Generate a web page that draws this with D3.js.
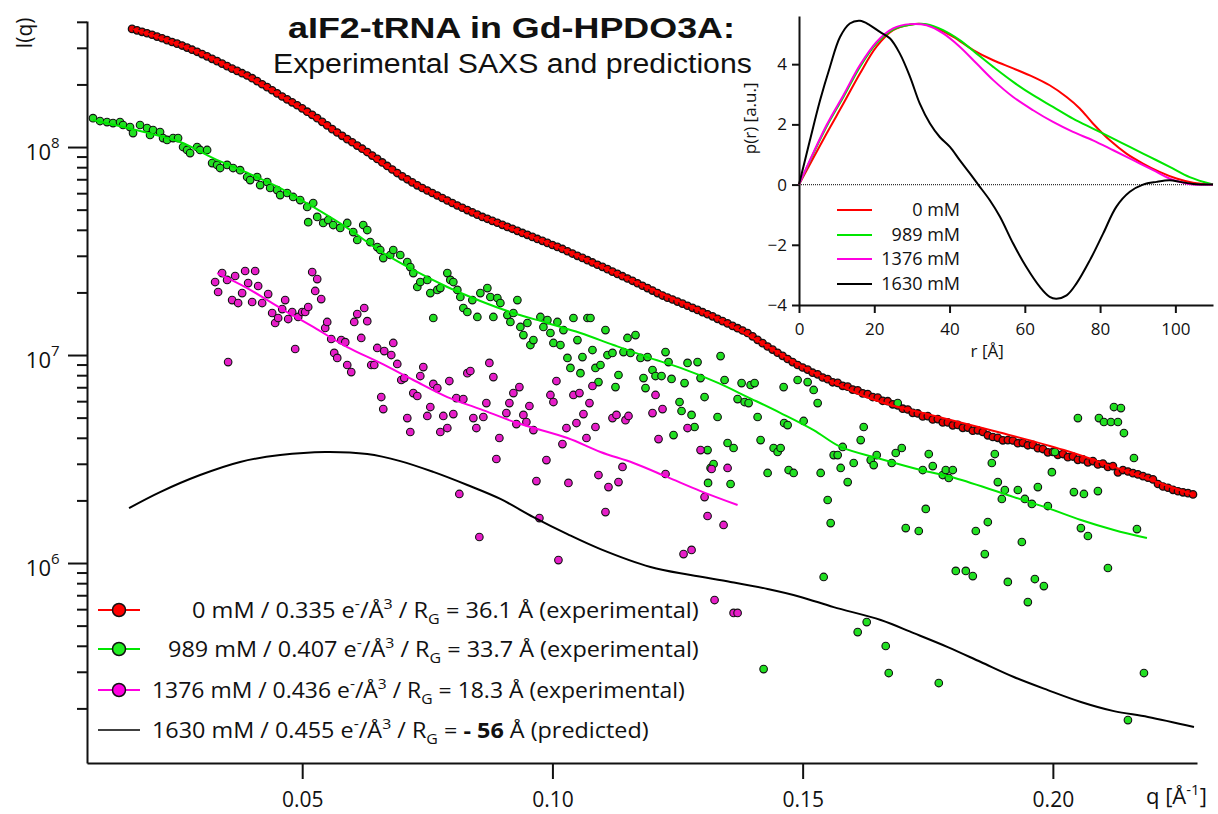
<!DOCTYPE html>
<html>
<head>
<meta charset="utf-8">
<script src="https://cdn.jsdelivr.net/npm/d3@7"></script>
<style>
body { margin: 0; background: #fff; }
text { font-family: "Open Sans", sans-serif; fill: #111; }
</style>
</head>
<body>
<div id="container"></div>
<script>
const W = 1218, H = 814;

// SAXS data, every entry is [q (1/Å), log10 I(q)]
const pts0mM = [
[0.016,8.568],[0.017,8.561],[0.018,8.554],[0.019,8.547],[0.020,8.540],[0.021,8.531],[0.022,8.523],[0.023,8.514],[0.024,8.505],[0.025,8.497],
[0.026,8.488],[0.027,8.478],[0.028,8.468],[0.029,8.458],[0.030,8.447],[0.031,8.436],[0.032,8.424],[0.033,8.413],[0.034,8.401],[0.035,8.389],
[0.036,8.377],[0.037,8.366],[0.038,8.355],[0.039,8.344],[0.040,8.331],[0.041,8.317],[0.042,8.302],[0.043,8.288],[0.044,8.273],[0.045,8.258],
[0.046,8.243],[0.047,8.229],[0.048,8.215],[0.049,8.201],[0.050,8.186],[0.051,8.170],[0.052,8.155],[0.053,8.139],[0.054,8.121],[0.055,8.104],
[0.056,8.086],[0.057,8.070],[0.058,8.054],[0.059,8.038],[0.060,8.023],[0.061,8.007],[0.062,7.992],[0.063,7.976],[0.064,7.959],[0.065,7.943],
[0.066,7.926],[0.067,7.909],[0.068,7.892],[0.069,7.875],[0.070,7.859],[0.071,7.845],[0.072,7.830],[0.073,7.816],[0.074,7.803],[0.075,7.791],
[0.076,7.779],[0.077,7.767],[0.078,7.755],[0.079,7.743],[0.080,7.731],[0.081,7.719],[0.082,7.708],[0.083,7.697],[0.084,7.686],[0.085,7.675],
[0.086,7.664],[0.087,7.655],[0.088,7.645],[0.089,7.636],[0.090,7.626],[0.091,7.616],[0.092,7.607],[0.093,7.597],[0.094,7.587],[0.095,7.578],
[0.096,7.568],[0.097,7.558],[0.098,7.549],[0.099,7.539],[0.100,7.529],[0.101,7.520],[0.102,7.510],[0.103,7.499],[0.104,7.488],[0.105,7.477],
[0.106,7.467],[0.107,7.456],[0.108,7.445],[0.109,7.434],[0.110,7.424],[0.111,7.413],[0.112,7.401],[0.113,7.390],[0.114,7.379],[0.115,7.368],
[0.116,7.357],[0.117,7.345],[0.118,7.333],[0.119,7.322],[0.120,7.310],[0.121,7.298],[0.122,7.286],[0.123,7.276],[0.124,7.267],[0.125,7.257],
[0.126,7.247],[0.127,7.237],[0.128,7.227],[0.129,7.217],[0.130,7.206],[0.131,7.196],[0.132,7.186],[0.133,7.174],[0.134,7.163],[0.135,7.152],
[0.136,7.140],[0.137,7.129],[0.138,7.118],[0.139,7.106],[0.140,7.090],[0.141,7.073],[0.142,7.057],[0.143,7.041],[0.144,7.026],[0.145,7.011],
[0.146,6.996],[0.147,6.981],[0.148,6.966],[0.149,6.952],[0.150,6.940],[0.151,6.930],[0.152,6.915],[0.153,6.907],[0.154,6.892],[0.155,6.884],
[0.156,6.869],[0.157,6.866],[0.158,6.852],[0.159,6.848],[0.160,6.834],[0.161,6.830],[0.162,6.816],[0.163,6.812],[0.164,6.798],[0.165,6.795],
[0.166,6.780],[0.167,6.778],[0.168,6.763],[0.169,6.758],[0.170,6.742],[0.171,6.738],[0.172,6.722],[0.173,6.719],[0.174,6.705],[0.175,6.706],
[0.176,6.690],[0.177,6.692],[0.178,6.676],[0.179,6.676],[0.180,6.662],[0.181,6.664],[0.182,6.650],[0.183,6.651],[0.184,6.636],[0.185,6.638],
[0.186,6.630],[0.187,6.614],[0.188,6.606],[0.189,6.602],[0.190,6.590],[0.191,6.591],[0.192,6.589],[0.193,6.576],[0.194,6.578],[0.195,6.566],
[0.196,6.568],[0.197,6.552],[0.198,6.548],[0.199,6.532],[0.200,6.534],[0.201,6.520],[0.202,6.524],[0.203,6.509],[0.204,6.512],[0.205,6.496],
[0.206,6.498],[0.207,6.484],[0.208,6.490],[0.209,6.474],[0.210,6.478],[0.211,6.462],[0.212,6.466],[0.213,6.436],[0.214,6.447],[0.215,6.440],
[0.216,6.432],[0.217,6.426],[0.218,6.418],[0.219,6.410],[0.220,6.402],[0.221,6.380],[0.222,6.368],[0.223,6.362],[0.224,6.352],[0.225,6.345],
[0.226,6.340],[0.227,6.336],[0.228,6.330]
];

const pts989mM = [
[0.0082,8.139],[0.0096,8.125],[0.0110,8.120],[0.0122,8.115],[0.0136,8.120],[0.0142,8.106],[0.0156,8.096],[0.0162,8.067],[0.0176,8.106],[0.0190,8.091],
[0.0196,8.058],[0.0202,8.082],[0.0216,8.072],[0.0222,8.043],[0.0230,8.034],[0.0242,8.043],[0.0252,8.043],[0.0262,8.000],[0.0270,7.986],[0.0276,7.971],
[0.0290,8.000],[0.0296,7.986],[0.0310,7.986],[0.0320,7.923],[0.0330,7.914],[0.0336,7.899],[0.0350,7.914],[0.0362,7.899],[0.0376,7.889],[0.0390,7.856],
[0.0396,7.841],[0.0410,7.856],[0.0416,7.817],[0.0430,7.832],[0.0436,7.803],[0.0450,7.793],[0.0456,7.769],[0.0470,7.779],[0.0482,7.760],[0.0496,7.745],
[0.0510,7.712],[0.0512,7.639],[0.0522,7.731],[0.0530,7.664],[0.0542,7.635],[0.0552,7.649],[0.0562,7.625],[0.0576,7.611],[0.0590,7.635],[0.0602,7.591],
[0.0610,7.553],[0.0622,7.625],[0.0630,7.601],[0.0636,7.543],[0.0650,7.519],[0.0656,7.505],[0.0662,7.466],[0.0676,7.481],[0.0682,7.505],[0.0696,7.481],
[0.0710,7.447],[0.0716,7.423],[0.0722,7.394],[0.0730,7.327],[0.0736,7.351],[0.0750,7.361],[0.0756,7.298],[0.0762,7.178],[0.0770,7.313],[0.0776,7.322],
[0.0790,7.394],[0.0796,7.361],[0.0802,7.351],[0.0810,7.313],[0.0816,7.279],[0.0822,7.226],[0.0830,7.207],[0.0840,7.264],[0.0850,7.183],[0.0856,7.298],
[0.0870,7.322],[0.0876,7.279],[0.0882,7.183],[0.0890,7.274],[0.0896,7.250],[0.0910,7.192],[0.0916,7.159],[0.0922,7.202],[0.0930,7.264],[0.0936,7.135],
[0.0942,7.096],[0.0950,7.154],[0.0956,7.048],[0.0962,7.072],[0.0976,7.183],[0.0982,7.135],[0.0990,7.168],[0.0996,7.106],[0.1002,7.058],[0.1010,7.159],
[0.1016,7.048],[0.1022,7.120],[0.1030,6.986],[0.1036,6.938],[0.1042,7.178],[0.1050,7.072],[0.1056,6.913],[0.1060,6.990],[0.1070,7.178],[0.1076,7.178],
[0.1080,7.024],[0.1086,6.938],[0.1092,6.870],[0.1096,6.952],[0.1106,7.120],[0.1110,7.000],[0.1120,7.010],[0.1126,6.846],[0.1132,6.904],[0.1142,7.014],
[0.1150,7.082],[0.1156,7.010],[0.1166,7.096],[0.1176,6.986],[0.1182,6.889],[0.1186,6.841],[0.1190,6.990],[0.1200,6.928],[0.1206,6.899],[0.1218,6.899],
[0.1226,7.014],[0.1232,6.966],[0.1238,6.885],[0.1242,6.615],[0.1254,6.774],[0.1258,6.731],[0.1264,6.865],[0.1270,6.962],[0.1278,6.712],[0.1284,6.654],
[0.1290,6.966],[0.1296,6.889],[0.1304,6.798],[0.1310,6.543],[0.1311,6.385],[0.1316,6.457],[0.1322,6.476],[0.1330,6.702],[0.1336,6.995],[0.1344,6.880],
[0.1350,6.577],[0.1356,6.380],[0.1362,6.553],[0.1370,6.788],[0.1378,6.865],[0.1384,6.774],[0.1392,6.769],[0.1396,6.856],[0.1404,6.865],[0.1410,6.702],
[0.1416,6.591],[0.1422,5.490],[0.1430,6.433],[0.1442,6.553],[0.1450,6.534],[0.1456,6.553],[0.1462,6.846],[0.1463,6.673],[0.1470,6.663],[0.1472,6.447],
[0.1482,6.433],[0.1490,6.880],[0.1502,6.683],[0.1510,6.870],[0.1522,6.832],[0.1530,6.769],[0.1536,6.433],[0.1542,5.933],[0.1550,6.303],[0.1556,6.192],
[0.1562,6.519],[0.1570,6.519],[0.1576,6.457],[0.1580,6.558],[0.1590,6.389],[0.1602,6.481],[0.1610,5.668],[0.1616,6.591],[0.1622,6.654],[0.1628,5.716],
[0.1636,6.495],[0.1642,6.471],[0.1648,6.519],[0.1666,5.601],[0.1672,5.471],[0.1678,6.481],[0.1686,6.529],[0.1690,6.769],[0.1698,6.553],[0.1706,6.168],
[0.1732,6.154],[0.1740,6.447],[0.1746,6.260],[0.1752,6.524],[0.1760,6.466],[0.1772,5.423],[0.1780,6.423],[0.1786,6.447],[0.1792,6.409],[0.1800,6.447],
[0.1806,5.962],[0.1826,5.962],[0.1840,5.937],[0.1846,6.154],[0.1864,6.043],[0.1870,6.197],[0.1878,6.481],[0.1884,6.524],[0.1890,6.389],[0.1898,6.308],
[0.1904,6.351],[0.1910,5.909],[0.1930,6.351],[0.1938,6.101],[0.1944,6.308],[0.1950,5.812],[0.1958,6.284],[0.1964,5.923],[0.1970,6.365],[0.1982,5.889],
[0.1990,6.274],[0.1998,6.437],[0.2004,6.534],[0.2042,6.341],[0.2050,6.697],[0.2056,6.168],[0.2062,6.332],[0.2070,6.130],[0.2090,6.346],[0.2092,6.697],
[0.2102,6.678],[0.2110,5.976],[0.2116,6.678],[0.2122,6.750],[0.2130,6.678],[0.2136,6.745],[0.2142,6.625],[0.2150,5.245],[0.2162,6.505],[0.2168,6.163],
[0.2182,5.471]
];

const pts1376mM = [
[0.0326,7.351],[0.0332,7.303],[0.0340,7.394],[0.0350,7.361],[0.0352,6.966],[0.0360,7.264],[0.0366,7.380],[0.0372,7.250],[0.0380,7.298],[0.0386,7.404],
[0.0392,7.346],[0.0400,7.255],[0.0406,7.404],[0.0412,7.332],[0.0420,7.250],[0.0432,7.293],[0.0440,7.202],[0.0446,7.154],[0.0452,7.178],[0.0460,7.221],
[0.0466,7.264],[0.0472,7.173],[0.0480,7.207],[0.0486,7.029],[0.0492,7.183],[0.0500,7.207],[0.0506,7.207],[0.0512,7.231],[0.0520,7.399],[0.0526,7.308],
[0.0530,7.365],[0.0538,7.269],[0.0546,7.130],[0.0550,7.159],[0.0558,7.077],[0.0564,7.010],[0.0570,6.986],[0.0578,7.072],[0.0586,7.062],[0.0590,6.952],
[0.0598,6.918],[0.0604,7.159],[0.0610,7.197],[0.0618,7.082],[0.0624,7.226],[0.0630,7.163],[0.0638,6.952],[0.0644,6.952],[0.0650,7.034],[0.0658,6.798],
[0.0662,6.740],[0.0664,7.019],[0.0678,7.000],[0.0682,7.058],[0.0690,6.957],[0.0698,6.880],[0.0704,6.889],[0.0710,6.697],[0.0716,6.630],[0.0722,6.817],
[0.0730,6.803],[0.0736,6.899],[0.0742,6.942],[0.0750,6.707],[0.0756,6.750],[0.0762,6.861],[0.0770,6.841],[0.0776,6.630],[0.0782,6.707],[0.0790,6.649],
[0.0794,6.875],[0.0802,6.716],[0.0808,6.793],[0.0814,6.332],[0.0822,6.788],[0.0830,6.913],[0.0836,6.923],[0.0842,6.697],[0.0848,6.649],[0.0854,6.125],
[0.0862,6.702],[0.0868,6.769],[0.0874,6.962],[0.0882,6.894],[0.0888,6.500],[0.0894,6.601],[0.0908,6.721],[0.0914,6.769],[0.0922,6.817],[0.0928,6.668],
[0.0934,6.846],[0.0942,6.712],[0.0948,6.678],[0.0954,6.755],[0.0962,6.639],[0.0968,6.394],[0.0974,6.216],[0.0988,6.495],[0.0996,6.808],[0.1002,6.774],
[0.1008,6.875],[0.1012,6.014],[0.1020,6.572],[0.1028,6.649],[0.1032,6.385],[0.1042,6.808],[0.1048,6.673],[0.1054,6.817],[0.1062,6.716],[0.1068,6.601],
[0.1074,6.769],[0.1080,6.851],[0.1086,6.654],[0.1092,6.423],[0.1106,6.245],[0.1112,6.365],[0.1120,6.697],[0.1128,6.712],[0.1132,6.389],[0.1140,6.462],
[0.1146,6.687],[0.1152,6.707],[0.1200,6.721],[0.1206,6.808],[0.1212,6.596],[0.1220,6.740],[0.1226,6.428],[0.1262,6.043],[0.1270,6.649],[0.1278,6.063],
[0.1296,6.543],[0.1304,6.317],[0.1310,6.226],[0.1318,6.452],[0.1324,5.822],[0.1342,6.183],[0.1350,6.457],[0.1362,5.760],[0.1370,5.760]
];

const fit0mM = [[0.0162,8.567],[0.0296,8.452],[0.0430,8.284],[0.0562,8.082],[0.0696,7.865],[0.0856,7.668],[0.1016,7.514],[0.1156,7.361],[0.1322,7.183],[0.1422,7.053],
[0.1490,6.957],[0.1556,6.875],[0.1622,6.803],[0.1676,6.760],[0.1756,6.712],[0.1890,6.630],[0.2022,6.543],[0.2122,6.462],[0.2196,6.399],[0.2282,6.327]];

const fit989mM = [[0.0082,8.130],[0.0176,8.077],[0.0256,8.024],[0.0322,7.947],[0.0396,7.870],[0.0456,7.803],[0.0522,7.712],[0.0590,7.611],[0.0656,7.500],[0.0722,7.409],
[0.0790,7.327],[0.0856,7.260],[0.0922,7.202],[0.0990,7.154],[0.1056,7.106],[0.1122,7.048],[0.1190,6.990],[0.1256,6.938],[0.1332,6.865],[0.1390,6.798],
[0.1456,6.721],[0.1522,6.639],[0.1576,6.558],[0.1656,6.500],[0.1736,6.447],[0.1804,6.409],[0.1922,6.317],[0.1990,6.264],[0.2056,6.207],[0.2122,6.159],[0.2188,6.120]];

const fit1376mM = [[0.0330,7.394],[0.0390,7.322],[0.0456,7.226],[0.0522,7.135],[0.0590,7.038],[0.0656,6.962],[0.0722,6.880],[0.0790,6.798],[0.0856,6.740],[0.0930,6.673],
[0.1030,6.601],[0.1096,6.534],[0.1162,6.481],[0.1230,6.413],[0.1296,6.346],[0.1370,6.279]];

const pred1630mM = [[0.0154,6.264],[0.0216,6.341],[0.0296,6.423],[0.0376,6.486],[0.0456,6.519],[0.0546,6.534],[0.0630,6.524],[0.0696,6.490],[0.0762,6.438],[0.0830,6.375],
[0.0896,6.308],[0.0962,6.221],[0.1030,6.139],[0.1096,6.067],[0.1196,5.981],[0.1276,5.942],[0.1356,5.909],[0.1430,5.875],[0.1496,5.837],[0.1562,5.788],
[0.1656,5.726],[0.1722,5.663],[0.1790,5.596],[0.1856,5.524],[0.1922,5.452],[0.1990,5.389],[0.2056,5.332],[0.2122,5.288],[0.2190,5.260],[0.2282,5.212]];

// pair distance distributions, [r (Å), p(r)]
const pr0mM = [[0,0],[7.3,1.69],[11.8,2.69],[16.2,3.69],[20.6,4.58],[25,5.13],[29.5,5.31],[33,5.33],[36.5,5.19],[41,4.91],[46.3,4.47],[51.6,4.13],
[56.9,3.86],[62.2,3.58],[66.6,3.30],[71.1,2.91],[74.6,2.53],[78.1,2.03],[82.6,1.47],[87,1.03],[91.4,0.70],[95.8,0.42],[100.3,0.20],[104.7,0.06],[110,0]];
const pr989mM = [[0,0],[7.3,1.92],[11.8,2.91],[16.2,3.91],[20.6,4.69],[25,5.15],[29.5,5.31],[33.9,5.33],[38.3,5.13],[42.7,4.80],[47.2,4.35],[51.6,3.91],
[56.9,3.41],[62.2,2.97],[67.5,2.58],[72.8,2.19],[78.1,1.86],[83.5,1.53],[87.9,1.25],[93.2,0.92],[98.5,0.59],[103.8,0.25],[110,0]];
const pr1376mM = [[0,0],[7.3,1.97],[11.8,2.97],[16.2,3.97],[20.6,4.74],[25,5.19],[29.5,5.33],[33.9,5.29],[38.3,5.02],[42.7,4.58],[47.2,4.02],[51.6,3.47],
[56.9,2.91],[62.2,2.47],[67.5,2.08],[72.8,1.75],[78.1,1.47],[83.5,1.14],[88.8,0.81],[94.1,0.48],[98.5,0.20],[102.1,0.06],[104.7,0],[110,0]];
const pr1630mM = [[0,0],[2.9,1.47],[5.6,2.8],[8.2,3.9],[10.9,4.9],[13.5,5.35],[16.2,5.44],[18.8,5.3],[21.5,5.07],[24.2,4.85],[26.8,4.35],[29.5,3.58],
[32.1,2.69],[34.8,2.03],[37.4,1.58],[40.1,1.25],[42.7,0.81],[45.4,0.37],[47.6,0],[50.7,-0.52],[53.4,-1.07],[56.9,-1.96],[60.4,-2.74],[64.0,-3.40],
[66.6,-3.73],[68.4,-3.79],[71.1,-3.68],[73.7,-3.29],[77.3,-2.51],[80.8,-1.63],[84.3,-0.74],[87.9,-0.24],[91.4,0],[95,0.09],[98.5,0.14],[101.2,0.09],
[104.7,0.02],[110,0]];

const xTicks = [0.05, 0.10, 0.15, 0.20];
const yMajorTicks = [1e6, 1e7, 1e8];
const yMinorTicks = [2e5,3e5,4e5,5e5,6e5,7e5,8e5,9e5,2e6,3e6,4e6,5e6,6e6,7e6,8e6,9e6,
                     2e7,3e7,4e7,5e7,6e7,7e7,8e7,9e7,2e8,3e8,4e8];
const insetXTicks = [0, 20, 40, 60, 80, 100];
const insetYTicks = [-4, -2, 0, 2, 4];

const legendConc = ["0 mM", "989 mM", "1376 mM", "1630 mM"];
const legendDensity = ["0.335", "0.407", "0.436", "0.455"];
const legendRg = ["36.1", "33.7", "18.3", "- 56"];
const legendNote = ["(experimental)", "(experimental)", "(experimental)", "(predicted)"];

const colors = ["#ff0000", "#00e600", "#ff00e0", "#000000"];
const dotFill = ["#ee0000", "#22e022", "#e61ec8"];

const svg = d3.select("#container").append("svg")
    .attr("width", W)
    .attr("height", H);

svg.append("rect").attr("width", W).attr("height", H).attr("fill", "#fff");

// main plot frame
const M = {left: 87, right: 1197, top: 21, bottom: 763};

const x = d3.scaleLinear().domain([0.007, 0.2288]).range([M.left, M.right]);
const y = d3.scaleLog().domain([Math.pow(10, 5.0385), Math.pow(10, 8.606)]).range([M.bottom, M.top]);

const fromLog = d => [d[0], Math.pow(10, d[1])];

// axes
const gx = svg.append("g")
    .attr("transform", `translate(0,${M.bottom})`)
    .call(d3.axisBottom(x).tickValues(xTicks).tickSize(16).tickSizeOuter(0).tickPadding(13).tickFormat(d3.format(".2f")));
gx.selectAll("text").style("font-size", "21px").attr("fill", "#111");

const gyMinor = svg.append("g")
    .attr("transform", `translate(${M.left},0)`)
    .call(d3.axisLeft(y).tickValues(yMinorTicks).tickSize(10).tickSizeOuter(0).tickFormat(""));
gyMinor.select(".domain").remove();

const gy = svg.append("g")
    .attr("transform", `translate(${M.left},0)`)
    .call(d3.axisLeft(y).tickValues(yMajorTicks).tickSize(19).tickSizeOuter(0).tickFormat(""));

svg.selectAll(".domain, .tick line").attr("stroke", "#111").attr("stroke-width", 2);

yMajorTicks.forEach(v => {
    const exp = Math.round(Math.log10(v));
    svg.append("text")
        .attr("x", 51)
        .attr("y", y(v) + 13)
        .attr("text-anchor", "end")
        .style("font-size", "22px")
        .text("10");
    svg.append("text")
        .attr("x", 51)
        .attr("y", y(v) + 1)
        .style("font-size", "15px")
        .text(exp);
});

svg.append("text")
    .attr("transform", "translate(32,33) rotate(-90)")
    .attr("text-anchor", "middle")
    .style("font-size", "21px")
    .text("I(q)");

// rich text helper: parts are [string, kind] with kind n / sup / sub / b
function richText(sel, px, py, parts, size, anchor) {
    const t = sel.append("text")
        .attr("x", px).attr("y", py)
        .attr("text-anchor", anchor || "start")
        .style("font-size", size + "px")
        .style("white-space", "pre");
    let shift = 0;
    parts.forEach(p => {
        const str = p[0], kind = p[1] || "n";
        const target = kind === "sup" ? -0.42 * size : kind === "sub" ? 0.28 * size : 0;
        const ts = t.append("tspan").attr("dy", target - shift).text(str);
        shift = target;
        if (kind === "sup" || kind === "sub") ts.style("font-size", (size * 0.68) + "px");
        if (kind === "b") ts.style("font-weight", "bold");
    });
    return t;
}

function fitWidth(t, x0, width) {
    const w = t.node().getBBox().width;
    t.attr("transform", `translate(${x0},0) scale(${width / w},1) translate(${-x0},0)`);
}

richText(svg, 1146, 804, [["q [Å"], ["-1", "sup"], ["]"]], 22);

// series
const line = d3.line()
    .x(d => x(d[0]))
    .y(d => y(d[1]))
    .curve(d3.curveCatmullRom.alpha(0.5));

const dotSets = [pts0mM, pts989mM, pts1376mM];
const dotR = [3.7, 3.8, 3.8];
dotSets.forEach((set, i) => {
    svg.append("g").selectAll("circle")
        .data(set.map(fromLog))
        .join("circle")
        .attr("cx", d => x(d[0]))
        .attr("cy", d => y(d[1]))
        .attr("r", dotR[i])
        .attr("fill", dotFill[i])
        .attr("stroke", "#111")
        .attr("stroke-width", i === 0 ? 1.3 : 1.1);
});

[[pred1630mM, 3], [fit1376mM, 2], [fit989mM, 1], [fit0mM, 0]].forEach(([set, i]) => {
    svg.append("path")
        .datum(set.map(fromLog))
        .attr("d", line)
        .attr("fill", "none")
        .attr("stroke", colors[i])
        .attr("stroke-width", 2);
});

// title
const title = svg.append("text")
    .attr("x", 288).attr("y", 38)
    .style("font-family", "'Liberation Sans', Arial, sans-serif")
    .style("font-weight", "bold")
    .style("font-size", "29px")
    .text("aIF2-tRNA in Gd-HPDO3A:");
fitWidth(title, 288, 447);

const subtitle = svg.append("text")
    .attr("x", 273).attr("y", 73)
    .style("font-family", "'Liberation Sans', Arial, sans-serif")
    .style("font-size", "27px")
    .text("Experimental SAXS and predictions");
fitWidth(subtitle, 273, 479);

// main legend
const legendRowY = [610, 649, 690, 730];
const legendTextX = [192, 168, 152, 152];
const legendTextEnd = [699, 699, 685, 649];
const leg = svg.append("g");
legendConc.forEach((c, i) => {
    const cy = legendRowY[i];
    leg.append("line")
        .attr("x1", 98).attr("x2", 140)
        .attr("y1", cy).attr("y2", cy)
        .attr("stroke", colors[i])
        .attr("stroke-width", i === 3 ? 1.6 : 2);
    if (i < 3) {
        leg.append("circle")
            .attr("cx", 119).attr("cy", cy).attr("r", 6.5)
            .attr("fill", colors[i] === "#00e600" ? "#22ee22" : colors[i])
            .attr("stroke", "#111").attr("stroke-width", 1.5);
    }
    const t = richText(leg, legendTextX[i], cy + 8, [
        [c + " / " + legendDensity[i] + " e"], ["-", "sup"], ["/Å"], ["3", "sup"],
        [" / R"], ["G", "sub"], [" = "], [legendRg[i], i === 3 ? "b" : "n"],
        [" Å " + legendNote[i]]
    ], 22);
    fitWidth(t, legendTextX[i], legendTextEnd[i] - legendTextX[i]);
});

// inset: p(r)
const IN = {left: 799, right: 1213, top: 16, bottom: 305};
const rx = d3.scaleLinear().domain([0, 110]).range([IN.left, IN.right]);
const py = d3.scaleLinear().domain([-4, 5.6]).range([IN.bottom, IN.top]);

const ix = svg.append("g")
    .attr("transform", `translate(0,${IN.bottom})`)
    .call(d3.axisBottom(rx).tickValues(insetXTicks).tickSize(8).tickSizeOuter(0).tickPadding(10));
ix.selectAll("text").style("font-size", "17px").attr("fill", "#111");

const iy = svg.append("g")
    .attr("transform", `translate(${IN.left},0)`)
    .call(d3.axisLeft(py).tickValues(insetYTicks).tickSize(7).tickSizeOuter(0).tickPadding(5));
iy.selectAll("text").style("font-size", "17px").attr("fill", "#111");

ix.selectAll(".domain, .tick line").attr("stroke", "#111").attr("stroke-width", 2);
iy.selectAll(".domain, .tick line").attr("stroke", "#111").attr("stroke-width", 2);

svg.append("line")
    .attr("x1", rx(0)).attr("x2", rx(110))
    .attr("y1", py(0)).attr("y2", py(0))
    .attr("stroke", "#333")
    .attr("stroke-width", 1.2)
    .attr("stroke-dasharray", "1,1");

const prLine = d3.line()
    .x(d => rx(d[0]))
    .y(d => py(d[1]))
    .curve(d3.curveCatmullRom.alpha(0.5));

[pr0mM, pr989mM, pr1376mM, pr1630mM].forEach((set, i) => {
    svg.append("path")
        .datum(set)
        .attr("d", prLine)
        .attr("fill", "none")
        .attr("stroke", colors[i])
        .attr("stroke-width", 2);
});

svg.append("text")
    .attr("x", rx(50)).attr("y", 357)
    .attr("text-anchor", "middle")
    .style("font-size", "17px")
    .text("r [Å]");

svg.append("text")
    .attr("transform", `translate(756,${py(2.2)}) rotate(-90)`)
    .attr("text-anchor", "middle")
    .style("font-size", "17px")
    .text("p(r) [a.u.]");

const insetRowY = [210, 235, 259, 284];
legendConc.forEach((c, i) => {
    svg.append("line")
        .attr("x1", 837).attr("x2", 872)
        .attr("y1", insetRowY[i]).attr("y2", insetRowY[i])
        .attr("stroke", colors[i])
        .attr("stroke-width", 2);
    svg.append("text")
        .attr("x", 960).attr("y", insetRowY[i] + 6)
        .attr("text-anchor", "end")
        .style("font-size", "18px")
        .text(c);
});
</script>
</body>
</html>
